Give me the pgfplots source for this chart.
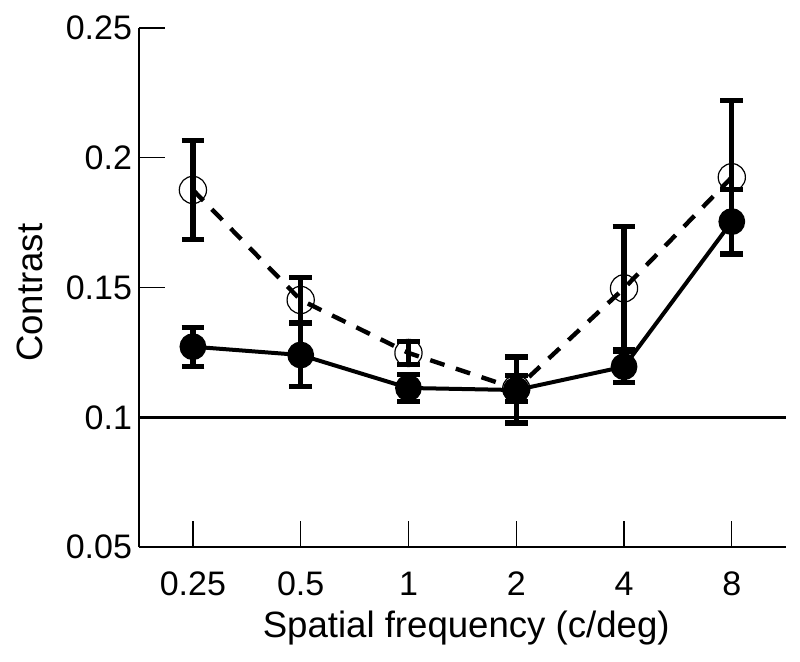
\documentclass[border=0pt]{standalone}
\usepackage{pgfplots}
\pgfplotsset{compat=1.18}
\usepackage{fontspec}
\setmainfont{Liberation Sans}
\begin{document}
\begin{tikzpicture}
\begin{axis}[
  scale only axis,
  width=323.3pt, height=259.5pt,
  xmin=-0.5, xmax=5.5,
  ymin=0.05, ymax=0.25,
  axis x line*=bottom, axis y line*=left,
  axis line style={line width=0.7pt, -},
  xtick={0,1,2,3,4,5},
  xticklabels={0.25,0.5,1,2,4,8},
  ytick={0.05,0.1,0.15,0.2,0.25},
  yticklabels={0.05,0.1,0.15,0.2,0.25},
  tick align=inside,
  major tick length=13pt,
  tick style={line width=0.6pt, black},
  /pgf/number format/assume math mode=true,
  ticklabel style={font=\fontsize{17}{20}\selectfont},
  xticklabel style={anchor=base, yshift=-24pt},
  label style={font=\fontsize{18.3}{22}\selectfont},
  xlabel={Spatial frequency (c/deg)},
  ylabel={Contrast},
  xlabel style={at={(axis description cs:0.506,0)}, anchor=base, yshift=-45pt},
  ylabel style={at={(axis description cs:-0.1485,0.49)}, anchor=base},
  clip=false,
]
\draw[line width=1.5pt] (axis cs:-0.5,0.1) -- (axis cs:5.5,0.1);
% open circles, dashed
\addplot[black, line width=2.2pt, dash pattern=on 7.5pt off 6pt,
  mark=o, mark size=6.8pt, mark options={solid, line width=0.6pt},
  error bars/.cd, y dir=both, y explicit,
  error bar style={solid, line width=2.6pt},
  error mark options={line width=2.6pt, mark size=5.7pt, rotate=90}]
coordinates {
 (0,0.1876) +- (0,0.0190)
 (1,0.1452) +- (0,0.0088)
 (2,0.1248) +- (0,0.0045)
 (3,0.1110) +- (0,0.0050)
 (4,0.1497) +- (0,0.0237)
 (5,0.1925) +- (0,0.0295)
};
% filled circles, solid
\addplot[black, line width=2pt,
  mark=*, mark size=6.3pt, mark options={solid, fill=black, line width=0.8pt},
  error bars/.cd, y dir=both, y explicit,
  error bar style={solid, line width=2.6pt},
  error mark options={line width=2.6pt, mark size=5.7pt, rotate=90}]
coordinates {
 (0,0.1272) +- (0,0.0075)
 (1,0.1240) +- (0,0.0120)
 (2,0.1113) +- (0,0.0053)
 (3,0.1105) +- (0,0.0127)
 (4,0.1195) +- (0,0.0060)
 (5,0.1754) +- (0,0.0125)
};
\coordinate (bbsw) at (axis cs:-0.5,0.05);
\coordinate (bbne) at (axis cs:5.5,0.25);
\end{axis}
\pgfresetboundingbox
\useasboundingbox ([shift={(-69.5pt,-57pt)}]bbsw) rectangle ([shift={(7.15pt,14pt)}]bbne);
\end{tikzpicture}
\end{document}
